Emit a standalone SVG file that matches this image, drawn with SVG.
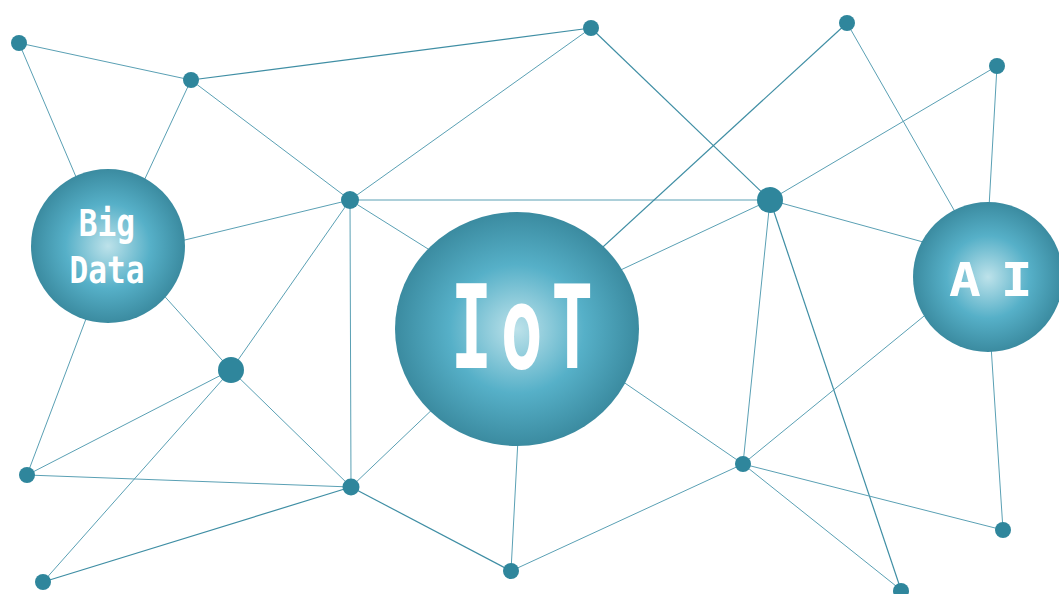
<svg xmlns="http://www.w3.org/2000/svg" width="1059" height="594" viewBox="0 0 1059 594">
  <defs>
    <radialGradient id="ball" cx="50%" cy="50%" r="50%">
      <stop offset="0" stop-color="#bde2ea"/>
      <stop offset="0.55" stop-color="#56b0c8"/>
      <stop offset="1" stop-color="#3b8ba0"/>
    </radialGradient>
  </defs>
  <style>
    .ln { stroke: #5aa0b4; stroke-width: 1; fill: none; }
    .dk { stroke: #3f8ea4; stroke-width: 1.2; }
    .dot { fill: #2f869c; }
    .ball { fill: url(#ball); }
    .lbl { fill: #ffffff; font-family: "DejaVu Sans Mono", "Liberation Mono", monospace; font-weight: bold; text-anchor: middle; }
  </style>
  <rect width="1059" height="594" fill="#ffffff"/>
  <g id="connectors">
    <line class="ln" x1="19" y1="43" x2="191" y2="80"/>
    <line class="ln" x1="19" y1="43" x2="85" y2="198"/>
    <line class="ln" x1="191" y1="80" x2="135" y2="200"/>
    <line class="ln dk" x1="191" y1="80" x2="591" y2="28"/>
    <line class="ln" x1="191" y1="80" x2="350" y2="200"/>
    <line class="ln" x1="591" y1="28" x2="350" y2="200"/>
    <line class="ln dk" x1="591" y1="28" x2="770" y2="200"/>
    <line class="ln" x1="350" y1="200" x2="160" y2="246"/>
    <line class="ln" x1="350" y1="200" x2="770" y2="200"/>
    <line class="ln" x1="350" y1="200" x2="460" y2="269"/>
    <line class="ln" x1="350" y1="200" x2="231" y2="370"/>
    <line class="ln" x1="350" y1="200" x2="351" y2="487"/>
    <line class="ln" x1="140" y1="269" x2="231" y2="370"/>
    <line class="ln" x1="95" y1="295" x2="27" y2="475"/>
    <line class="ln" x1="231" y1="370" x2="27" y2="475"/>
    <line class="ln" x1="231" y1="370" x2="43" y2="582"/>
    <line class="ln" x1="231" y1="370" x2="351" y2="487"/>
    <line class="ln" x1="27" y1="475" x2="351" y2="487"/>
    <line class="ln dk" x1="43" y1="582" x2="351" y2="487"/>
    <line class="ln" x1="351" y1="487" x2="460" y2="383"/>
    <line class="ln dk" x1="351" y1="487" x2="511" y2="571"/>
    <line class="ln" x1="519" y1="420" x2="511" y2="571"/>
    <line class="ln dk" x1="580" y1="268" x2="847" y2="23"/>
    <line class="ln" x1="595" y1="282" x2="770" y2="200"/>
    <line class="ln" x1="600" y1="366" x2="743" y2="464"/>
    <line class="ln" x1="511" y1="571" x2="743" y2="464"/>
    <line class="ln" x1="770" y1="200" x2="997" y2="66"/>
    <line class="ln" x1="770" y1="200" x2="945" y2="248"/>
    <line class="ln" x1="770" y1="200" x2="743" y2="464"/>
    <line class="ln dk" x1="770" y1="200" x2="901" y2="590"/>
    <line class="ln" x1="847" y1="23" x2="966" y2="231"/>
    <line class="ln" x1="997" y1="66" x2="988" y2="225"/>
    <line class="ln" x1="743" y1="464" x2="940" y2="303"/>
    <line class="ln" x1="1003" y1="530" x2="990" y2="330"/>
    <line class="ln" x1="743" y1="464" x2="1003" y2="530"/>
    <line class="ln" x1="743" y1="464" x2="901" y2="590"/>
  </g>
  <g id="dots">
    <circle id="n1" class="dot" cx="19" cy="43" r="8"/>
    <circle id="n2" class="dot" cx="191" cy="80" r="8"/>
    <circle id="n3" class="dot" cx="591" cy="28" r="8"/>
    <circle id="n4" class="dot" cx="847" cy="23" r="8"/>
    <circle id="n5" class="dot" cx="997" cy="66" r="8"/>
    <circle id="n6" class="dot" cx="350" cy="200" r="9"/>
    <circle id="n7" class="dot" cx="770" cy="200" r="13"/>
    <circle id="n8" class="dot" cx="231" cy="370" r="13"/>
    <circle id="n9" class="dot" cx="27" cy="475" r="8"/>
    <circle id="n10" class="dot" cx="351" cy="487" r="8.5"/>
    <circle id="n11" class="dot" cx="743" cy="464" r="8"/>
    <circle id="n12" class="dot" cx="511" cy="571" r="8"/>
    <circle id="n13" class="dot" cx="43" cy="582" r="8"/>
    <circle id="n14" class="dot" cx="901" cy="591" r="8"/>
    <circle id="n15" class="dot" cx="1003" cy="530" r="8"/>
  </g>
  <g id="bigdata">
    <circle class="ball" cx="108" cy="246" r="77"/>
    <text class="lbl" font-size="38" transform="translate(107,236) scale(0.82,1)">Big</text>
    <text class="lbl" font-size="38" transform="translate(107,283) scale(0.82,1)">Data</text>
  </g>
  <g id="iot">
    <ellipse class="ball" cx="517" cy="329" rx="122" ry="117"/>
    <text class="lbl" font-size="116" letter-spacing="14" transform="translate(526,368) scale(0.6,1)">IoT</text>
  </g>
  <g id="ai">
    <circle class="ball" cx="988" cy="277" r="75"/>
    <text class="lbl" font-size="46" transform="translate(0,296) scale(1.15,1)" x="839 861 884">A I</text>
  </g>
</svg>
